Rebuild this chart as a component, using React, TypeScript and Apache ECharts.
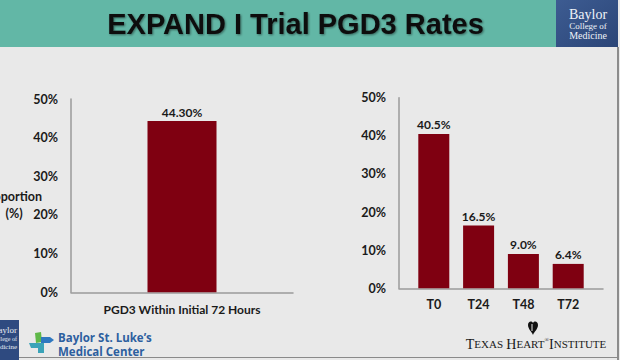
import React, { useEffect, useRef } from "react";
import * as echarts from "echarts";

const leftCategories = ["PGD3 Within Initial 72 Hours"];
const leftValues = [44.3];
const rightCategories = ["T0", "T24", "T48", "T72"];
const rightValues = [40.5, 16.5, 9.0, 6.4];
const yMin = 0;
const yMax = 50;
const yInterval = 10;

const TEXT = "#1a1a1a";
const BAR = "#7f0011";
const AXIS = "#9a9a9a";
const FONT = "Lato";

echarts.graphic.registerShape(
  "heartLogo",
  echarts.graphic.extendPath(
    "M5 2 C3.5 -0.5 0 0.5 0 4 C0 8 4 11 5 14 C6 11 10 8 10 4 C10 0.5 6.5 -0.5 5 2 Z",
    {}
  )
);

export default function App() {
  const ref = useRef<HTMLDivElement>(null);
  useEffect(() => {
    document.body.style.margin = "0";
    if (!ref.current) return;
    const chart = echarts.init(ref.current, undefined, { renderer: "svg" });
    const tickLabel = {
      color: TEXT,
      fontFamily: FONT,
      fontWeight: "bold" as const,
      fontSize: 12.5,
      margin: 13,
      formatter: "{value}%",
    };
    const valueLabelStyle = {
      show: true,
      position: "top" as const,
      distance: 3,
      color: TEXT,
      fontFamily: FONT,
      fontWeight: "bold" as const,
      fontSize: 12,
    };
    chart.setOption({
      animation: false,
      backgroundColor: "#e9e9e9",
      grid: [
        { left: 71, top: 99, width: 222, height: 193.3 },
        { left: 399, top: 97.7, width: 204, height: 190.6 },
        { left: 411.4, top: 97.7, width: 179.2, height: 190.6 },
      ],
      xAxis: [
        {
          gridIndex: 0,
          type: "category",
          data: leftCategories,
          axisLine: { lineStyle: { color: AXIS, width: 1.5 } },
          axisTick: { show: false },
          axisLabel: { color: TEXT, fontFamily: FONT, fontWeight: "bold", fontSize: 12, margin: 11 },
        },
        {
          gridIndex: 1,
          type: "category",
          data: [""],
          axisLine: { lineStyle: { color: AXIS, width: 1.5 } },
          axisTick: { show: false },
          axisLabel: { show: false },
        },
        {
          gridIndex: 2,
          type: "category",
          data: rightCategories,
          axisLine: { show: false },
          axisTick: { show: false },
          axisLabel: { color: TEXT, fontFamily: FONT, fontWeight: "bold", fontSize: 12.5, margin: 10 },
        },
      ],
      yAxis: [
        {
          gridIndex: 0,
          type: "value",
          min: yMin,
          max: yMax,
          interval: yInterval,
          axisLine: { show: true, lineStyle: { color: AXIS, width: 1.5 } },
          axisTick: { show: false },
          splitLine: { show: false },
          axisLabel: tickLabel,
        },
        {
          gridIndex: 1,
          type: "value",
          min: yMin,
          max: yMax,
          interval: yInterval,
          axisLine: { show: true, lineStyle: { color: AXIS, width: 1.5 } },
          axisTick: { show: false },
          splitLine: { show: false },
          axisLabel: tickLabel,
        },
        {
          gridIndex: 2,
          type: "value",
          min: yMin,
          max: yMax,
          interval: yInterval,
          show: false,
          splitLine: { show: false },
        },
      ],
      series: [
        {
          type: "bar",
          xAxisIndex: 0,
          yAxisIndex: 0,
          data: leftValues,
          barWidth: 69,
          itemStyle: { color: BAR },
          label: { ...valueLabelStyle, formatter: (p: any) => p.value.toFixed(2) + "%" },
        },
        {
          type: "bar",
          xAxisIndex: 2,
          yAxisIndex: 2,
          data: rightValues,
          barWidth: 31,
          itemStyle: { color: BAR },
          label: { ...valueLabelStyle, formatter: (p: any) => p.value.toFixed(1) + "%" },
        },
      ],
      graphic: [
        { type: "rect", shape: { x: 0, y: 0, width: 556, height: 47 }, style: { fill: "#62b7a6" }, silent: true },
        {
          type: "rect",
          shape: { x: 556, y: 0, width: 62, height: 47 },
          style: {
            fill: new echarts.graphic.LinearGradient(0, 0, 1, 1, [
              { offset: 0, color: "#3d5c92" },
              { offset: 1, color: "#2b4577" },
            ]),
          },
        },
        {
          type: "text",
          x: 295.5,
          y: 24,
          style: {
            text: "EXPAND I Trial PGD3 Rates",
            align: "center",
            verticalAlign: "middle",
            fill: "#111111",
            font: "bold 29px 'Liberation Sans', Arial, sans-serif",
            textShadowColor: "rgba(0,0,0,0.45)",
            textShadowBlur: 2,
            textShadowOffsetX: 1,
            textShadowOffsetY: 1,
          },
        },
        { type: "text", x: 588, y: 14, style: { text: "Baylor", align: "center", verticalAlign: "middle", fill: "#eef2f8", font: "14px 'Liberation Serif', serif" } },
        { type: "text", x: 588, y: 26, style: { text: "College of", align: "center", verticalAlign: "middle", fill: "#eef2f8", font: "9px 'Liberation Serif', serif" } },
        { type: "text", x: 588, y: 35.5, style: { text: "Medicine", align: "center", verticalAlign: "middle", fill: "#eef2f8", font: "10px 'Liberation Serif', serif" } },
        { type: "line", shape: { x1: 618, y1: 47, x2: 618, y2: 360 }, style: { stroke: "#6d6d6d", lineWidth: 1.5 } },
        { type: "line", shape: { x1: 19, y1: 357.5, x2: 618, y2: 357.5 }, style: { stroke: "#8a8a8a", lineWidth: 1 } },
        { type: "text", x: 42, y: 196, style: { text: "Proportion", align: "right", verticalAlign: "middle", fill: TEXT, font: "bold 12.5px Lato" } },
        { type: "text", x: 14, y: 213, style: { text: "(%)", align: "center", verticalAlign: "middle", fill: TEXT, font: "bold 12.5px Lato" } },
        { type: "rect", shape: { x: 0, y: 320, width: 19, height: 40 }, style: { fill: "#2e4a80" } },
        { type: "text", x: 17, y: 330, style: { text: "Baylor", align: "right", verticalAlign: "middle", fill: "#e8edf5", font: "9px 'Liberation Serif', serif" } },
        { type: "text", x: 17, y: 339, style: { text: "College of", align: "right", verticalAlign: "middle", fill: "#e8edf5", font: "6px 'Liberation Serif', serif" } },
        { type: "text", x: 17, y: 347, style: { text: "Medicine", align: "right", verticalAlign: "middle", fill: "#e8edf5", font: "7px 'Liberation Serif', serif" } },
        { type: "polygon", shape: { points: [[35, 333], [41, 332], [42, 342], [36, 343]] }, style: { fill: "#5fb848" } },
        { type: "polygon", shape: { points: [[41, 337], [50, 337], [54, 340], [50, 343], [41, 343]] }, style: { fill: "#2f78c0" } },
        { type: "polygon", shape: { points: [[29, 343], [44, 343], [44, 353], [38, 353], [38, 348], [31, 348]] }, style: { fill: "#3aa3b8" } },
        { type: "text", x: 58, y: 337.5, style: { text: "Baylor St. Luke\u2019s", align: "left", verticalAlign: "middle", fill: "#2d5f9f", font: "bold 11.5px 'Open Sans'" } },
        { type: "text", x: 58, y: 351, style: { text: "Medical Center", align: "left", verticalAlign: "middle", fill: "#2d5f9f", font: "bold 11.5px 'Open Sans'" } },
        { type: "heartLogo", x: 528, y: 321, scaleX: 1, scaleY: 1, style: { fill: "#111111" } },
        { type: "line", shape: { x1: 532, y1: 324, x2: 532, y2: 331 }, style: { stroke: "#e9e9e9", lineWidth: 1 } },
        {
          type: "text",
          x: 536,
          y: 344,
          style: {
            text: "{b|T}{s|EXAS} {b|H}{s|EART}{r|\u00ae}{b|I}{s|NSTITUTE}",
            align: "center",
            verticalAlign: "middle",
            fill: "#1a1a1a",
            rich: {
              b: { font: "14px 'Liberation Serif', serif", fill: "#1a1a1a" },
              s: { font: "11px 'Liberation Serif', serif", fill: "#1a1a1a" },
              r: { font: "6px 'Liberation Serif', serif", fill: "#1a1a1a", verticalAlign: "top" },
            },
          },
        },
      ],
    });
    return () => chart.dispose();
  }, []);
  return <div ref={ref} style={{ width: 620, height: 360, position: "fixed", left: 0, top: 0 }} />;
}
